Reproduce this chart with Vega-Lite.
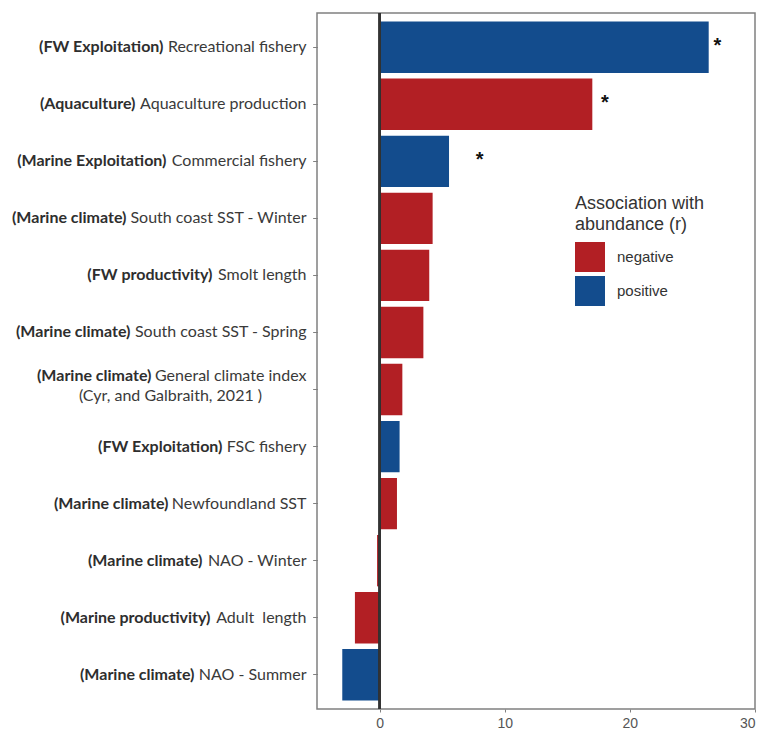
{
  "$schema": "https://vega.github.io/schema/vega-lite/v6.json",
  "width": 438,
  "height": 696,
  "autosize": {"type": "none"},
  "padding": {"left": 317, "top": 13, "right": 10, "bottom": 22},
  "background": "white",
  "config": {
    "view": {"stroke": "#808080", "strokeWidth": 1.5},
    "axis": {"labelLimit": 0, "titlePadding": 0}
  },
  "datasets": {
    "drivers": [
      {"driver": "(FW Exploitation) Recreational fishery", "value": 26.3, "association": "positive"},
      {"driver": "(Aquaculture) Aquaculture production", "value": 17.0, "association": "negative"},
      {"driver": "(Marine Exploitation) Commercial fishery", "value": 5.55, "association": "positive"},
      {"driver": "(Marine climate) South coast SST - Winter", "value": 4.24, "association": "negative"},
      {"driver": "(FW productivity) Smolt length", "value": 3.97, "association": "negative"},
      {"driver": "(Marine climate) South coast SST - Spring", "value": 3.5, "association": "negative"},
      {"driver": "(Marine climate) General climate index (Cyr, and Galbraith, 2021 )", "value": 1.82, "association": "negative"},
      {"driver": "(FW Exploitation) FSC fishery", "value": 1.6, "association": "positive"},
      {"driver": "(Marine climate) Newfoundland SST", "value": 1.39, "association": "negative"},
      {"driver": "(Marine climate) NAO - Winter", "value": -0.2, "association": "negative"},
      {"driver": "(Marine productivity) Adult\u00a0 length", "value": -1.97, "association": "negative"},
      {"driver": "(Marine climate) NAO - Summer", "value": -2.98, "association": "positive"}
    ],
    "significance": [
      {"driver": "(FW Exploitation) Recreational fishery", "at": 27.0, "flag": "*"},
      {"driver": "(Aquaculture) Aquaculture production", "at": 18.0, "flag": "*"},
      {"driver": "(Marine Exploitation) Commercial fishery", "at": 8.0, "flag": "*"}
    ]
  },
  "resolve": {"axis": {"y": "independent"}},
  "layer": [
    {
      "data": {"name": "drivers"},
      "mark": {"type": "bar"},
      "encoding": {
        "y": {
          "field": "driver",
          "type": "nominal",
          "sort": null,
          "scale": {"paddingInner": 0.1, "paddingOuter": 0.15},
          "axis": {
            "orient": "left",
            "title": null,
            "domain": false,
            "tickSize": 4,
            "tickColor": "#808080",
            "labelExpr": "indexof(datum.value, ' (Cyr') > 0 ? substring(datum.value, indexof(datum.value, ')') + 2, indexof(datum.value, ' (Cyr')) : substring(datum.value, indexof(datum.value, ')') + 2)",
            "labelFont": "Lato",
            "labelFontSize": 16,
            "labelColor": "#3a3a3a",
            "labelPadding": 7,
            "labelOffset": {"condition": {"test": "indexof(datum.value, 'Galbraith') >= 0", "value": -14}, "value": 0}
          }
        },
        "x": {
          "field": "value",
          "type": "quantitative",
          "scale": {"domain": [-5, 30], "nice": false, "zero": false},
          "axis": {
            "title": null,
            "values": [0, 10, 20, 30],
            "grid": false,
            "domain": false,
            "tickSize": 3,
            "tickColor": "#808080",
            "labelFont": "Liberation Sans",
            "labelFontSize": 14,
            "labelColor": "#555555",
            "labelPadding": 4
          }
        },
        "color": {
          "field": "association",
          "type": "nominal",
          "scale": {"domain": ["negative", "positive"], "range": ["#B21F24", "#134C8D"]},
          "legend": {
            "title": ["Association with", "abundance (r)"],
            "orient": "none",
            "legendX": 258,
            "legendY": 182,
            "titleFont": "Liberation Sans",
            "titleFontSize": 18,
            "titleFontWeight": "normal",
            "titleColor": "#333333",
            "titleLineHeight": 21,
            "titlePadding": 8,
            "labelFont": "Liberation Sans",
            "labelFontSize": 15,
            "labelColor": "#333333",
            "labelOffset": 12,
            "symbolType": "square",
            "symbolSize": 900,
            "symbolStrokeWidth": 0,
            "symbolOpacity": 1,
            "rowPadding": 4
          }
        }
      }
    },
    {
      "data": {"name": "significance"},
      "mark": {"type": "text", "font": "Liberation Sans", "fontSize": 20, "fontWeight": "bold", "baseline": "middle", "align": "center", "dy": -1, "color": "#111111"},
      "encoding": {
        "y": {
          "field": "driver",
          "type": "nominal",
          "sort": null,
          "axis": {
            "orient": "left",
            "title": null,
            "domain": false,
            "tickSize": 4,
            "tickColor": "#808080",
            "labelExpr": "substring(datum.value, 0, indexof(datum.value, ')') + 1)",
            "labelFont": "Lato",
            "labelFontSize": 16,
            "labelFontWeight": "bold",
            "labelColor": "#2e2e2e",
            "labelOffset": {"condition": {"test": "indexof(datum.value, 'Galbraith') >= 0", "value": -14}, "value": 0},
            "labelPadding": {
              "condition": [
                {"test": "indexof(datum.value, 'Recreational') >= 0", "value": 150},
                {"test": "indexof(datum.value, 'Aquaculture production') >= 0", "value": 178},
                {"test": "indexof(datum.value, 'Commercial') >= 0", "value": 147},
                {"test": "indexof(datum.value, 'SST - Winter') >= 0", "value": 187},
                {"test": "indexof(datum.value, 'Smolt') >= 0", "value": 101},
                {"test": "indexof(datum.value, 'SST - Spring') >= 0", "value": 183},
                {"test": "indexof(datum.value, 'General') >= 0", "value": 162},
                {"test": "indexof(datum.value, 'FSC') >= 0", "value": 91},
                {"test": "indexof(datum.value, 'Newfoundland') >= 0", "value": 145},
                {"test": "indexof(datum.value, 'NAO - Winter') >= 0", "value": 111},
                {"test": "indexof(datum.value, 'Adult') >= 0", "value": 103},
                {"test": "indexof(datum.value, 'NAO - Summer') >= 0", "value": 119}
              ],
              "value": 7
            }
          }
        },
        "x": {"field": "at", "type": "quantitative"},
        "text": {"field": "flag"}
      }
    },
    {
      "data": {"name": "drivers"},
      "transform": [{"filter": "indexof(datum.driver, 'Galbraith') >= 0"}],
      "mark": {"type": "text"},
      "encoding": {
        "y": {
          "field": "driver",
          "type": "nominal",
          "sort": null,
          "axis": {
            "orient": "left",
            "title": null,
            "domain": false,
            "tickSize": 4,
            "tickColor": "#808080",
            "labelExpr": "indexof(datum.value, ' (Cyr') > 0 ? substring(datum.value, indexof(datum.value, ' (Cyr') + 1) : ''",
            "labelFont": "Lato",
            "labelFontSize": 16,
            "labelColor": "#3a3a3a",
            "labelAlign": "center",
            "labelPadding": 143,
            "labelOffset": 6
          }
        },
        "x": {"datum": 0},
        "text": {"value": ""}
      }
    },
    {
      "data": {"name": "drivers"},
      "mark": {"type": "rule", "color": "#333333", "strokeWidth": 1.5},
      "encoding": {"x": {"datum": 0}}
    }
  ]
}
